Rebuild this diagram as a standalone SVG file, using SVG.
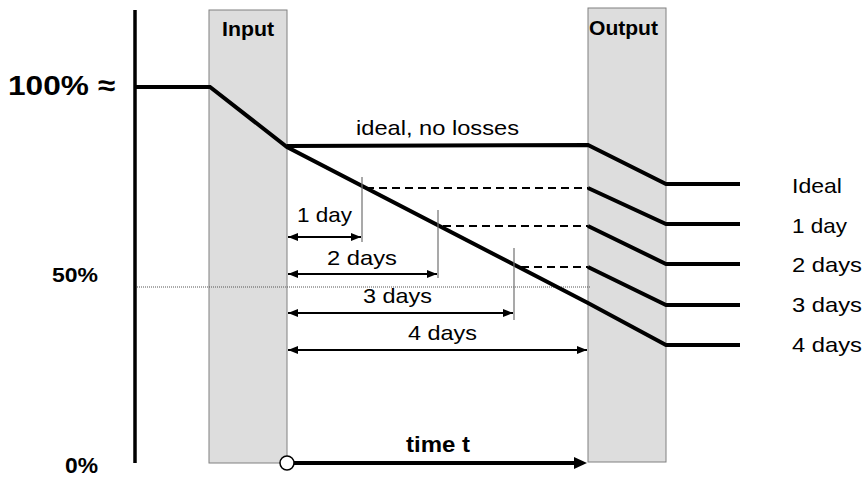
<svg xmlns="http://www.w3.org/2000/svg" width="865" height="478" viewBox="0 0 865 478">
<defs>
<style>
.box{fill:#dddddd;stroke:#808080;stroke-width:1}
.thick{fill:none;stroke:#000;stroke-width:4;stroke-linejoin:miter}
.tick{stroke:#707070;stroke-width:1.2}
.dash{stroke:#000;stroke-width:2;stroke-dasharray:8,5}
.dim{stroke:#000;stroke-width:2;marker-start:url(#ds);marker-end:url(#de)}
.t{font-family:"Liberation Sans",Arial,sans-serif;font-size:21px;fill:#000}
.b{font-family:"Liberation Sans",Arial,sans-serif;font-weight:bold;fill:#000}
</style>
<marker id="de" viewBox="0 0 10 8" refX="10" refY="4" markerWidth="10" markerHeight="8" markerUnits="userSpaceOnUse" orient="auto"><path d="M0,0 L10,4 L0,8 Z" fill="#000"/></marker>
<marker id="ds" viewBox="0 0 10 8" refX="0" refY="4" markerWidth="10" markerHeight="8" markerUnits="userSpaceOnUse" orient="auto"><path d="M10,0 L0,4 L10,8 Z" fill="#000"/></marker>
</defs>
<rect width="865" height="478" fill="#fff"/>
<g id="input"><rect class="box" x="209" y="10" width="78" height="453"/><text class="b" x="222" y="36" font-size="20" textLength="52" lengthAdjust="spacingAndGlyphs">Input</text></g>
<g id="output"><rect class="box" x="588" y="8" width="78" height="454"/><text class="b" x="589" y="35" font-size="20" textLength="69" lengthAdjust="spacingAndGlyphs">Output</text></g>
<g id="axis">
<line x1="135" y1="10" x2="135" y2="463" stroke="#000" stroke-width="3.5"/>
<line x1="137" y1="287" x2="590" y2="287" stroke="#555" stroke-width="1" stroke-dasharray="1,1"/>
<text class="b" x="8" y="95" font-size="28" textLength="107" lengthAdjust="spacingAndGlyphs">100% ≈</text>
<text class="b" x="52" y="282" font-size="21" textLength="46" lengthAdjust="spacingAndGlyphs">50%</text>
<text class="b" x="65" y="473" font-size="22" textLength="33" lengthAdjust="spacingAndGlyphs">0%</text>
</g>
<g id="connectors">
<polyline class="thick" points="135,87 210,87 287,147 588,303 666,345 740,345"/>
<polyline class="thick" points="287,146 588,145 666,184 740,184"/>
<polyline class="thick" points="588,188 666,224 740,224"/>
<polyline class="thick" points="588,226 666,264 740,264"/>
<polyline class="thick" points="588,267 666,305 740,305"/>
<line class="dash" x1="366" y1="188" x2="588" y2="188"/>
<line class="dash" x1="443" y1="226" x2="588" y2="226"/>
<line class="dash" x1="521" y1="267" x2="588" y2="267"/>
<line class="tick" x1="362" y1="177" x2="362" y2="242"/>
<line class="tick" x1="438" y1="210" x2="438" y2="278"/>
<line class="tick" x1="514" y1="248" x2="514" y2="320"/>
<line class="dim" x1="288" y1="237" x2="361" y2="237"/>
<line class="dim" x1="288" y1="274" x2="437" y2="274"/>
<line class="dim" x1="288" y1="313" x2="513" y2="313"/>
<line class="dim" x1="288" y1="350" x2="587" y2="350"/>
<line x1="294" y1="463" x2="576" y2="463" stroke="#000" stroke-width="4"/>
<path d="M574,457 L587,463 L574,469 Z" fill="#000"/>
<circle cx="287" cy="463" r="7" fill="#fff" stroke="#000" stroke-width="1.5"/>
</g>
<g id="labels">
<text class="t" x="356" y="135" textLength="163" lengthAdjust="spacingAndGlyphs">ideal, no losses</text>
<text class="t" x="297" y="222" textLength="55" lengthAdjust="spacingAndGlyphs">1 day</text>
<text class="t" x="327" y="265" textLength="70" lengthAdjust="spacingAndGlyphs">2 days</text>
<text class="t" x="363" y="303" textLength="69" lengthAdjust="spacingAndGlyphs">3 days</text>
<text class="t" x="408" y="340" textLength="69" lengthAdjust="spacingAndGlyphs">4 days</text>
<text class="b" x="406" y="452" font-size="22" textLength="64" lengthAdjust="spacingAndGlyphs">time t</text>
<text class="t" x="792" y="193" textLength="50" lengthAdjust="spacingAndGlyphs">Ideal</text>
<text class="t" x="792" y="233" textLength="55" lengthAdjust="spacingAndGlyphs">1 day</text>
<text class="t" x="792" y="272" textLength="70" lengthAdjust="spacingAndGlyphs">2 days</text>
<text class="t" x="792" y="312" textLength="70" lengthAdjust="spacingAndGlyphs">3 days</text>
<text class="t" x="792" y="352" textLength="70" lengthAdjust="spacingAndGlyphs">4 days</text>
</g>
</svg>
